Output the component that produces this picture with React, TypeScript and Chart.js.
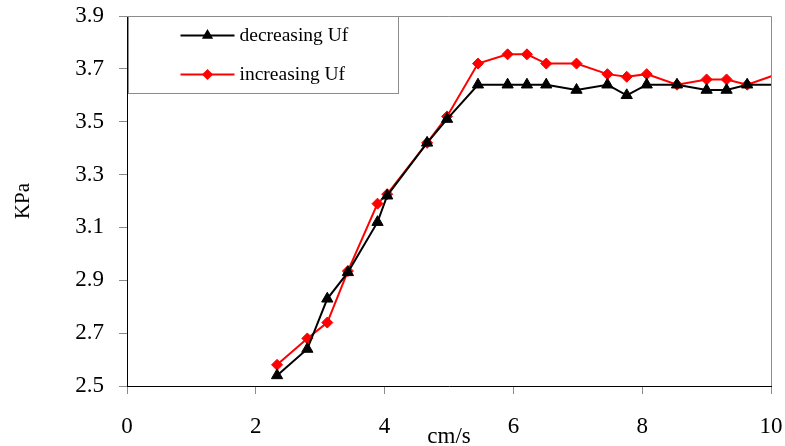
import React, { useEffect, useRef } from "react";
import { Chart, registerables } from "chart.js";

Chart.register(...registerables);

const xValues = [2.33, 2.8, 3.11, 3.43, 3.89, 4.04, 4.66, 4.97, 5.45, 5.91, 6.21, 6.51, 6.98, 7.46, 7.76, 8.07, 8.54, 9.0, 9.31, 9.63, 10.1];
const decreasingUf = [2.54, 2.64, 2.83, 2.93, 3.12, 3.22, 3.42, 3.51, 3.64, 3.64, 3.64, 3.64, 3.62, 3.64, 3.6, 3.64, 3.64, 3.62, 3.62, 3.64, 3.64];
const increasingUf = [2.58, 2.68, 2.74, 2.935, 3.19, 3.226, 3.42, 3.52, 3.72, 3.755, 3.755, 3.72, 3.72, 3.68, 3.67, 3.68, 3.64, 3.66, 3.66, 3.64, 3.68];
const seriesLabels = ["decreasing Uf", "increasing Uf"];
const xTitle = "cm/s";
const yTitle = "KPa";

const FONT = "'Liberation Serif', 'Times New Roman', serif";

const frameAndLegend = {
  id: "frameAndLegend",
  afterDatasetsDraw(chart: any) {
    const { ctx, chartArea } = chart;
    const { left, top, right, bottom } = chartArea;
    ctx.save();
    // gray top/right frame
    ctx.strokeStyle = "#8c8c8c";
    ctx.lineWidth = 1;
    ctx.beginPath();
    ctx.moveTo(left, top + 0.5);
    ctx.lineTo(right + 0.5, top + 0.5);
    ctx.lineTo(right + 0.5, bottom);
    ctx.stroke();

    // legend box
    const bx = left + 1.5;
    const by = top + 0.5;
    const bw = 270;
    const bh = 77;
    ctx.fillStyle = "#ffffff";
    ctx.fillRect(bx, by, bw, bh);
    ctx.strokeStyle = "#8c8c8c";
    ctx.strokeRect(bx, by, bw, bh);

    const rows = [by + 19, by + 58];
    chart.data.datasets.forEach((ds: any, i: number) => {
      const y = rows[i];
      const x0 = bx + 52;
      const x1 = bx + 106;
      const xm = (x0 + x1) / 2;
      ctx.strokeStyle = ds.borderColor;
      ctx.lineWidth = 2;
      ctx.beginPath();
      ctx.moveTo(x0, y);
      ctx.lineTo(x1, y);
      ctx.stroke();
      ctx.fillStyle = ds.pointBackgroundColor;
      ctx.beginPath();
      if (ds.pointStyle === "triangle") {
        const r = ds.pointRadius;
        for (let k = 0; k < 3; k++) {
          const a = (k * 2 * Math.PI) / 3;
          const px = xm + Math.sin(a) * r;
          const py = y - Math.cos(a) * r;
          if (k === 0) ctx.moveTo(px, py);
          else ctx.lineTo(px, py);
        }
      } else {
        const r = ds.pointRadius;
        ctx.moveTo(xm, y - r);
        ctx.lineTo(xm + r, y);
        ctx.lineTo(xm, y + r);
        ctx.lineTo(xm - r, y);
      }
      ctx.closePath();
      ctx.fill();
      ctx.fillStyle = "#000000";
      ctx.font = `19.5px ${FONT}`;
      ctx.textBaseline = "middle";
      ctx.textAlign = "left";
      ctx.fillText(ds.label, x1 + 5, y);
    });
    ctx.restore();
  },
};

export default function App() {
  const canvasRef = useRef<HTMLCanvasElement | null>(null);

  useEffect(() => {
    if (!canvasRef.current) return;
    const chart = new Chart(canvasRef.current, {
      type: "line",
      data: {
        datasets: [
          {
            label: seriesLabels[0],
            data: xValues.map((x, i) => ({ x, y: decreasingUf[i] })),
            borderColor: "#000000",
            backgroundColor: "#000000",
            pointBackgroundColor: "#000000",
            pointBorderColor: "#000000",
            pointStyle: "triangle",
            pointRadius: 6.5,
            pointBorderWidth: 1,
            borderWidth: 2,
            tension: 0,
            clip: 0,
          },
          {
            label: seriesLabels[1],
            data: xValues.map((x, i) => ({ x, y: increasingUf[i] })),
            borderColor: "#ff0000",
            backgroundColor: "#ff0000",
            pointBackgroundColor: "#ff0000",
            pointBorderColor: "#ff0000",
            pointStyle: "rectRot",
            pointRadius: 5.5,
            pointBorderWidth: 1,
            borderWidth: 2,
            tension: 0,
            clip: 0,
          },
        ],
      },
      options: {
        responsive: false,
        animation: false,
        layout: { padding: { top: 16, right: 14, left: 0, bottom: 0 } },
        plugins: {
          legend: { display: false },
          tooltip: { enabled: false },
        },
        scales: {
          x: {
            type: "linear",
            min: 0,
            max: 10,
            afterFit: (s: any) => {
              s.height = 60;
              s.paddingLeft = 0;
              s.paddingRight = 0;
            },
            ticks: {
              stepSize: 2,
              color: "#000000",
              padding: 19,
              font: { family: FONT, size: 23 },
              maxRotation: 0,
            },
            grid: {
              drawOnChartArea: false,
              drawTicks: true,
              tickLength: 8,
              color: "#8c8c8c",
            },
            border: { color: "#000000", width: 1 },
            title: {
              display: true,
              text: xTitle,
              color: "#000000",
              font: { family: FONT, size: 23, lineHeight: 0.8 },
              padding: { top: 0, bottom: 0 },
            },
          },
          y: {
            type: "linear",
            min: 2.5,
            max: 3.9,
            afterFit: (s: any) => {
              s.width = 127;
              s.paddingTop = 0;
              s.paddingBottom = 0;
            },
            ticks: {
              stepSize: 0.2,
              color: "#000000",
              padding: 15,
              font: { family: FONT, size: 23 },
              callback: (v: any) => Number(v).toFixed(1),
            },
            grid: {
              drawOnChartArea: false,
              drawTicks: true,
              tickLength: 8,
              color: "#8c8c8c",
            },
            border: { color: "#000000", width: 1 },
            title: {
              display: true,
              text: yTitle,
              color: "#000000",
              font: { family: FONT, size: 21, lineHeight: 1.2 },
              padding: { top: 11, bottom: 0 },
            },
          },
        },
      },
      plugins: [frameAndLegend],
    });
    return () => chart.destroy();
  }, []);

  return (
    <div style={{ position: "absolute", left: 0, top: 0, width: 785, height: 446, background: "#ffffff" }}>
      <canvas ref={canvasRef} width={785} height={446} style={{ display: "block", width: 785, height: 446 }} />
    </div>
  );
}
